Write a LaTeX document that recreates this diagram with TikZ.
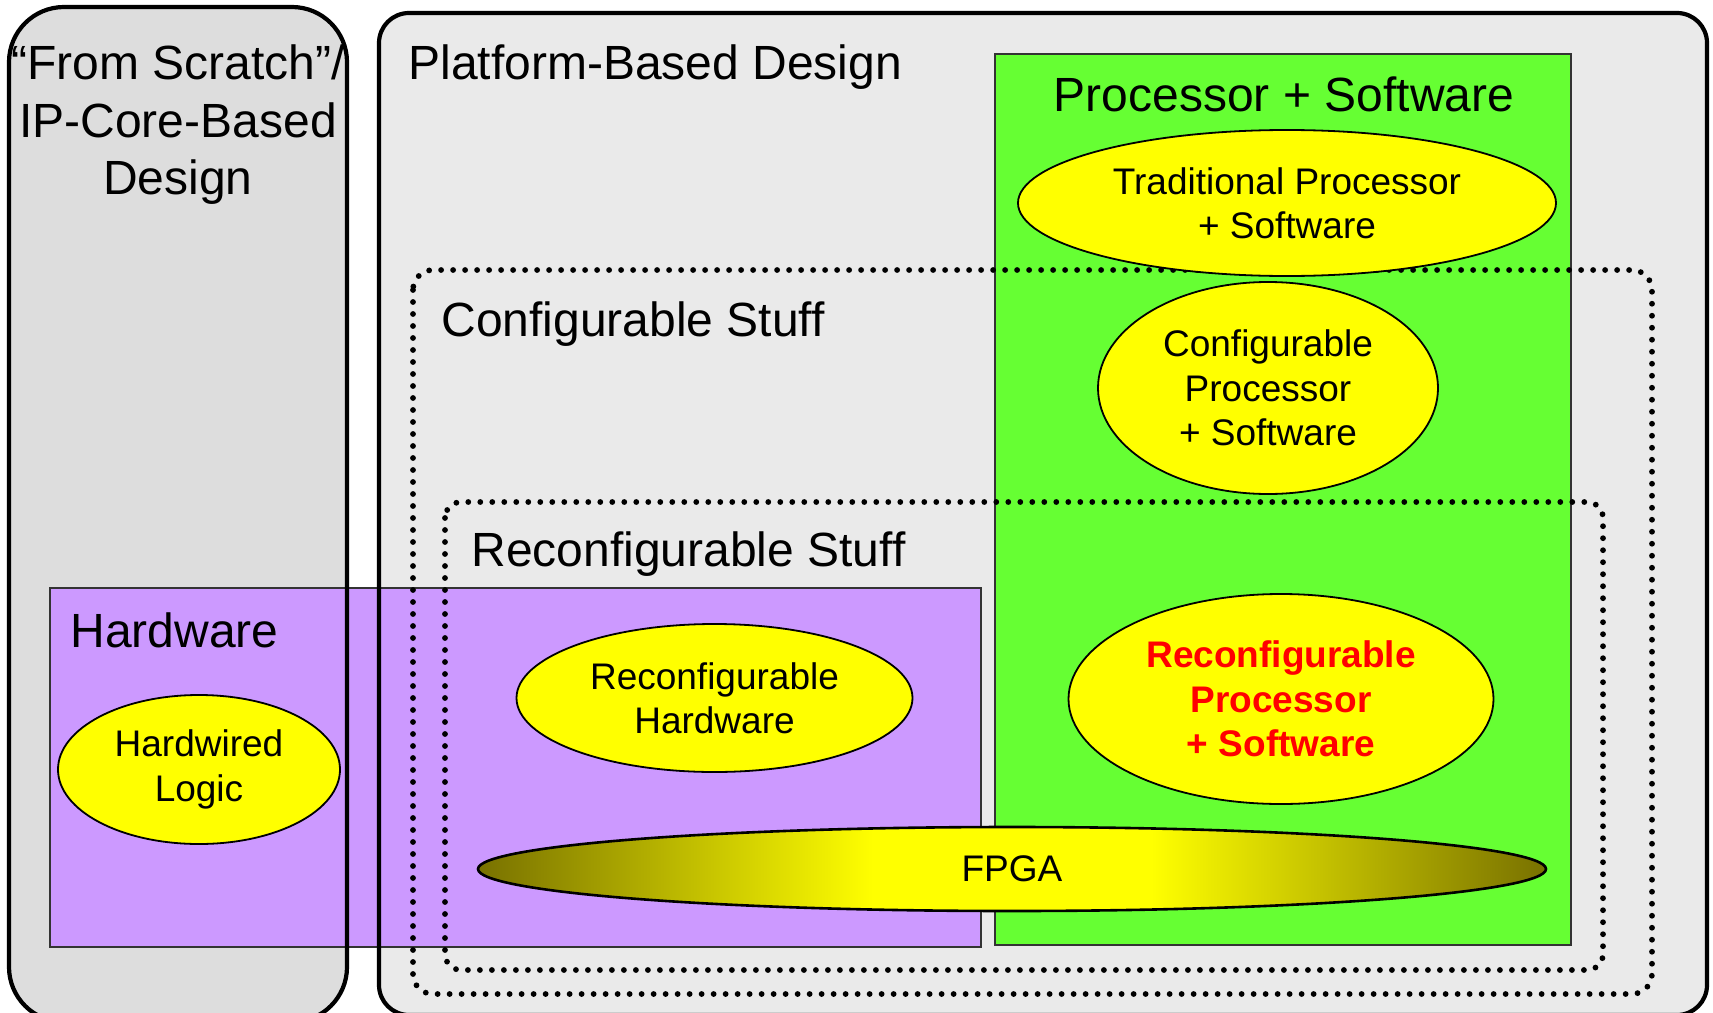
\documentclass[tikz,border=0pt]{standalone}
\usepackage{fontspec}
\setmainfont{Liberation Sans}
\usetikzlibrary{shapes.geometric}
\definecolor{scratchgray}{HTML}{DDDDDD}
\definecolor{platgray}{HTML}{EAEAEA}
\definecolor{hwpurple}{HTML}{CC99FF}
\definecolor{swgreen}{HTML}{66FF33}
\definecolor{ellyellow}{HTML}{FFFF00}
\definecolor{redtxt}{HTML}{FF0000}
\definecolor{fpgaolive}{RGB}{120,113,0}
\definecolor{boxedge}{HTML}{333333}
\pgfdeclarehorizontalshading{fpgashade}{100bp}{color(0bp)=(fpgaolive); color(25bp)=(fpgaolive); color(43.5bp)=(ellyellow); color(56.5bp)=(ellyellow); color(75bp)=(fpgaolive); color(100bp)=(fpgaolive)}
\tikzset{
  bigtxt/.style={font=\fontsize{24}{29}\selectfont, inner sep=0pt},
  areaedge/.style={draw=black, line width=2.1pt},
  boxline/.style={draw=boxedge, line width=1pt},
  dotline/.style={draw=black, line width=2.9pt, dash pattern=on 0pt off 6pt, line cap=round},
  ell/.style={ellipse, draw=black, line width=0.9pt, fill=ellyellow, inner sep=0pt, align=center, font=\fontsize{18.5}{22.2}\selectfont},
}
\begin{document}
\begin{tikzpicture}[x=0.5pt,y=-0.5pt]
\path[use as bounding box] (0,0) rectangle (1713,1012);
% area fills
\fill[scratchgray, rounded corners=27.5pt] (9,7) rectangle (347,1022);
\fill[platgray, rounded corners=15pt] (379,13) rectangle (1707,1015);
% hardware box
\path[boxline, fill=hwpurple] (50,588) rectangle (981,947);
% area outlines
\path[areaedge, rounded corners=27.5pt] (9,7) rectangle (347,1022);
\path[areaedge, rounded corners=15pt] (379,13) rectangle (1707,1015);
% processor + software box
\path[boxline, fill=swgreen] (995,54) rectangle (1571,945);
% dotted regions
\path[dotline, rounded corners=10pt] (413,270) rectangle (1652,994);
\path[dotline, rounded corners=8pt] (445,502) rectangle (1603,970);
% ellipses
\node[ell, minimum width=269pt, minimum height=73pt] (trad) at (1287,203) {Traditional Processor\\+ Software};
\node[ell, minimum width=170pt, minimum height=106pt] (confp) at (1268,388) {Configurable\\Processor\\+ Software};
\node[ell, minimum width=212.5pt, minimum height=105pt, text=redtxt, font=\fontsize{18.5}{22.2}\selectfont\bfseries] (reconfp) at (1281,699) {Reconfigurable\\Processor\\+ Software};
\node[ell, minimum width=198pt, minimum height=74pt] (reconfhw) at (714.5,698) {Reconfigurable\\Hardware};
\node[ell, minimum width=141pt, minimum height=74.5pt] (hwlogic) at (199,769.5) {Hardwired\\Logic};
\node[ell, line width=1.3pt, shading=fpgashade, minimum width=534pt, minimum height=42pt] (fpga) at (1012,869) {FPGA};
% labels
\node[bigtxt, anchor=base] (scratch1) at (178,79) {“From Scratch”/};
\node[bigtxt, anchor=base] (scratch2) at (178,137) {IP-Core-Based};
\node[bigtxt, anchor=base] (scratch3) at (178,194) {Design};
\node[bigtxt, anchor=base west] (platform) at (408,79) {Platform-Based Design};
\node[bigtxt, anchor=base] (procsw) at (1284,111) {Processor + Software};
\node[bigtxt, anchor=base west] (config) at (441,336) {Configurable Stuff};
\node[bigtxt, anchor=base west] (reconfig) at (471,566) {Reconfigurable Stuff};
\node[bigtxt, anchor=base west] (hardware) at (70,647) {Hardware};
\end{tikzpicture}
\end{document}
